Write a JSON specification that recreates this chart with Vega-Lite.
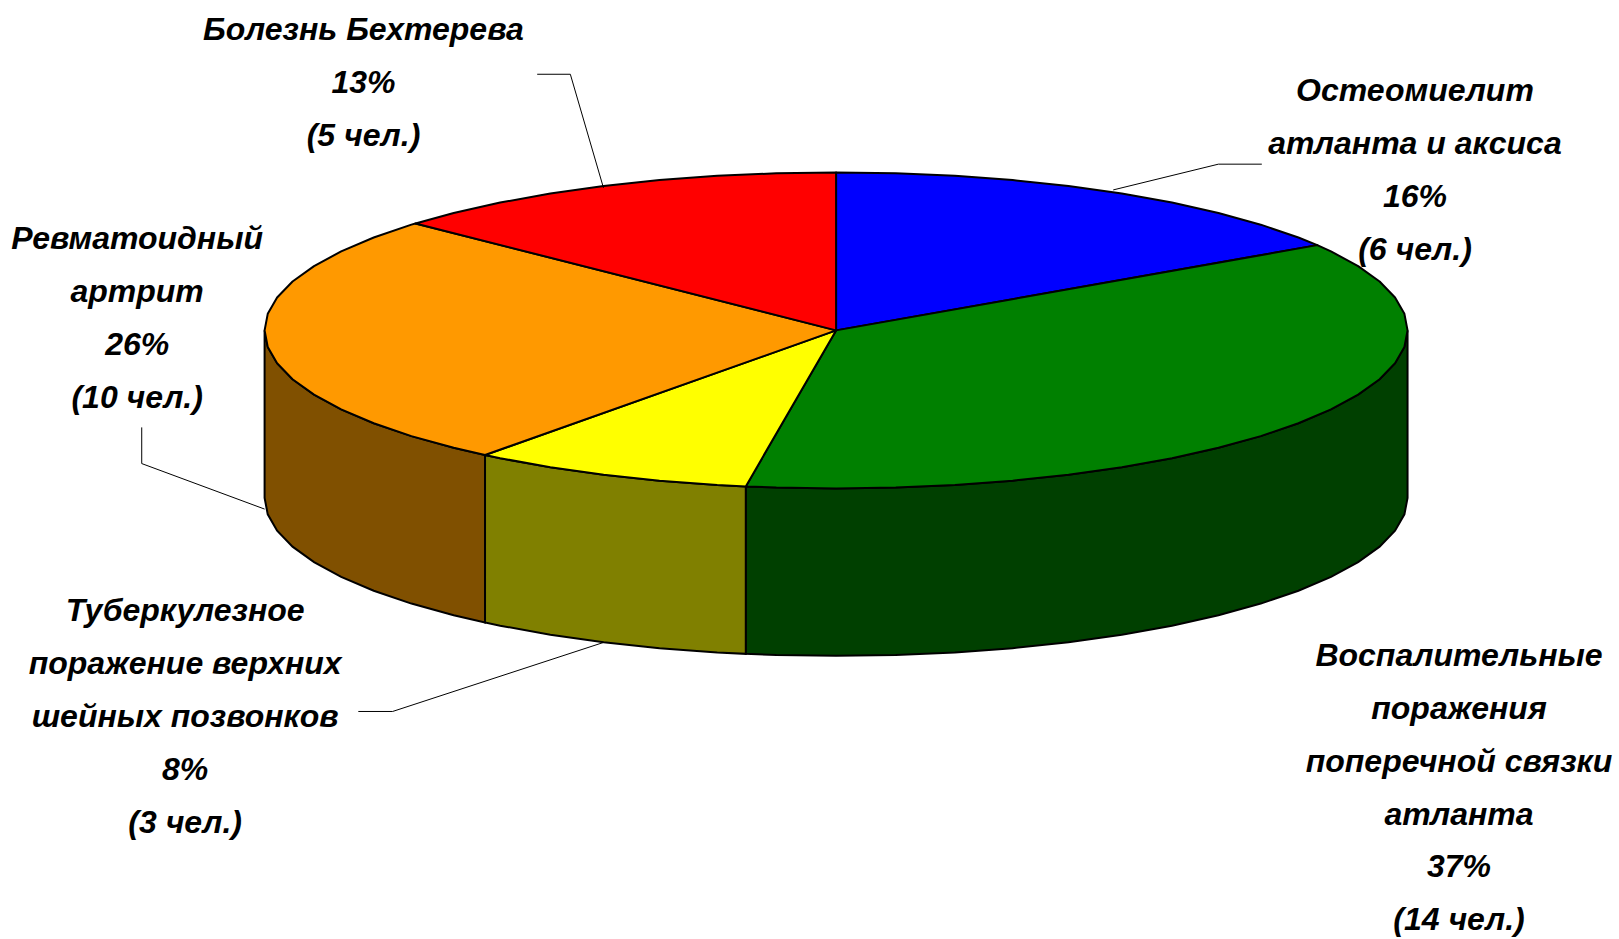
{
"$schema":"https://vega.github.io/schema/vega-lite/v6.json",
"width":1619,"height":939,
"autosize":{"type":"fit","contains":"padding"},
"padding":0,
"background":"white",
"view":{"stroke":null},
"datasets":{
"walls":[
{"s":"inflam","x":100,"y":0,"y2":-106},{"s":"inflam","x":99.45,"y":-10.45,"y2":-116.45},{"s":"inflam","x":97.81,"y":-20.79,"y2":-126.79},{"s":"inflam","x":95.11,"y":-30.9,"y2":-136.9},{"s":"inflam","x":91.35,"y":-40.67,"y2":-146.67},{"s":"inflam","x":86.6,"y":-50,"y2":-156},{"s":"inflam","x":80.9,"y":-58.78,"y2":-164.78},{"s":"inflam","x":74.31,"y":-66.91,"y2":-172.91},{"s":"inflam","x":66.91,"y":-74.31,"y2":-180.31},{"s":"inflam","x":58.78,"y":-80.9,"y2":-186.9},{"s":"inflam","x":50,"y":-86.6,"y2":-192.6},{"s":"inflam","x":40.67,"y":-91.35,"y2":-197.35},{"s":"inflam","x":30.9,"y":-95.11,"y2":-201.11},{"s":"inflam","x":20.79,"y":-97.81,"y2":-203.81},{"s":"inflam","x":10.45,"y":-99.45,"y2":-205.45},{"s":"inflam","x":0,"y":-100,"y2":-206},{"s":"inflam","x":-10.45,"y":-99.45,"y2":-205.45},{"s":"inflam","x":-15.8,"y":-98.74,"y2":-204.74},
{"s":"tb","x":-15.8,"y":-98.74,"y2":-204.74},{"s":"tb","x":-20.79,"y":-97.81,"y2":-203.81},{"s":"tb","x":-30.9,"y":-95.11,"y2":-201.11},{"s":"tb","x":-40.67,"y":-91.35,"y2":-197.35},{"s":"tb","x":-50,"y":-86.6,"y2":-192.6},{"s":"tb","x":-58.78,"y":-80.9,"y2":-186.9},{"s":"tb","x":-61.43,"y":-78.91,"y2":-184.91},
{"s":"ra","x":-61.43,"y":-78.91,"y2":-184.91},{"s":"ra","x":-66.91,"y":-74.31,"y2":-180.31},{"s":"ra","x":-74.31,"y":-66.91,"y2":-172.91},{"s":"ra","x":-80.9,"y":-58.78,"y2":-164.78},{"s":"ra","x":-86.6,"y":-50,"y2":-156},{"s":"ra","x":-91.35,"y":-40.67,"y2":-146.67},{"s":"ra","x":-95.11,"y":-30.9,"y2":-136.9},{"s":"ra","x":-97.81,"y":-20.79,"y2":-126.79},{"s":"ra","x":-99.45,"y":-10.45,"y2":-116.45},{"s":"ra","x":-100,"y":0,"y2":-106}
],
"tops":[
{"s":"osteo","x":0,"y":0},{"s":"osteo","x":0,"y":100},{"s":"osteo","x":10.45,"y":99.45},{"s":"osteo","x":20.79,"y":97.81},{"s":"osteo","x":30.9,"y":95.11},{"s":"osteo","x":40.67,"y":91.35},{"s":"osteo","x":50,"y":86.6},{"s":"osteo","x":58.78,"y":80.9},{"s":"osteo","x":66.91,"y":74.31},{"s":"osteo","x":74.31,"y":66.91},{"s":"osteo","x":80.9,"y":58.78},{"s":"osteo","x":84.2,"y":53.95},{"s":"osteo","x":0,"y":0},
{"s":"inflam","x":0,"y":0},{"s":"inflam","x":84.2,"y":53.95},{"s":"inflam","x":86.6,"y":50},{"s":"inflam","x":91.35,"y":40.67},{"s":"inflam","x":95.11,"y":30.9},{"s":"inflam","x":97.81,"y":20.79},{"s":"inflam","x":99.45,"y":10.45},{"s":"inflam","x":100,"y":0},{"s":"inflam","x":99.45,"y":-10.45},{"s":"inflam","x":97.81,"y":-20.79},{"s":"inflam","x":95.11,"y":-30.9},{"s":"inflam","x":91.35,"y":-40.67},{"s":"inflam","x":86.6,"y":-50},{"s":"inflam","x":80.9,"y":-58.78},{"s":"inflam","x":74.31,"y":-66.91},{"s":"inflam","x":66.91,"y":-74.31},{"s":"inflam","x":58.78,"y":-80.9},{"s":"inflam","x":50,"y":-86.6},{"s":"inflam","x":40.67,"y":-91.35},{"s":"inflam","x":30.9,"y":-95.11},{"s":"inflam","x":20.79,"y":-97.81},{"s":"inflam","x":10.45,"y":-99.45},{"s":"inflam","x":0,"y":-100},{"s":"inflam","x":-10.45,"y":-99.45},{"s":"inflam","x":-15.8,"y":-98.74},{"s":"inflam","x":0,"y":0},
{"s":"tb","x":0,"y":0},{"s":"tb","x":-15.8,"y":-98.74},{"s":"tb","x":-20.79,"y":-97.81},{"s":"tb","x":-30.9,"y":-95.11},{"s":"tb","x":-40.67,"y":-91.35},{"s":"tb","x":-50,"y":-86.6},{"s":"tb","x":-58.78,"y":-80.9},{"s":"tb","x":-61.43,"y":-78.91},{"s":"tb","x":0,"y":0},
{"s":"ra","x":0,"y":0},{"s":"ra","x":-61.43,"y":-78.91},{"s":"ra","x":-66.91,"y":-74.31},{"s":"ra","x":-74.31,"y":-66.91},{"s":"ra","x":-80.9,"y":-58.78},{"s":"ra","x":-86.6,"y":-50},{"s":"ra","x":-91.35,"y":-40.67},{"s":"ra","x":-95.11,"y":-30.9},{"s":"ra","x":-97.81,"y":-20.79},{"s":"ra","x":-99.45,"y":-10.45},{"s":"ra","x":-100,"y":0},{"s":"ra","x":-99.45,"y":10.45},{"s":"ra","x":-97.81,"y":20.79},{"s":"ra","x":-95.11,"y":30.9},{"s":"ra","x":-91.35,"y":40.67},{"s":"ra","x":-86.6,"y":50},{"s":"ra","x":-80.9,"y":58.78},{"s":"ra","x":-74.31,"y":66.91},{"s":"ra","x":-73.6,"y":67.69},{"s":"ra","x":0,"y":0},
{"s":"behcet","x":0,"y":0},{"s":"behcet","x":-73.6,"y":67.69},{"s":"behcet","x":-66.91,"y":74.31},{"s":"behcet","x":-58.78,"y":80.9},{"s":"behcet","x":-50,"y":86.6},{"s":"behcet","x":-40.67,"y":91.35},{"s":"behcet","x":-30.9,"y":95.11},{"s":"behcet","x":-20.79,"y":97.81},{"s":"behcet","x":-10.45,"y":99.45},{"s":"behcet","x":0,"y":100},{"s":"behcet","x":0,"y":0}
],
"leaders":[
{"s":"behcet","x":-52.3,"y":162.1},{"s":"behcet","x":-46.5,"y":162.1},{"s":"behcet","x":-40.7,"y":90.2},
{"s":"osteo","x":48.5,"y":88.9},{"s":"osteo","x":66.9,"y":105.2},{"s":"osteo","x":74.5,"y":105.2},
{"s":"ra","x":-121.5,"y":-61.4},{"s":"ra","x":-121.5,"y":-84.3},{"s":"ra","x":-100,"y":-113.1},
{"s":"tb","x":-40.6,"y":-197.4},{"s":"tb","x":-77.6,"y":-241.2},{"s":"tb","x":-83.6,"y":-241.2}
],
"labels":[
{"s":"behcet","people":5,"percent":13,"label":"Болезнь Бехтерева\n13%\n(5 чел.)","x":-82.7,"y":189.8},
{"s":"osteo","people":6,"percent":16,"label":"Остеомиелит\nатланта и аксиса\n16%\n(6 чел.)","x":101.3,"y":151.3},
{"s":"ra","people":10,"percent":26,"label":"Ревматоидный\nартрит\n26%\n(10 чел.)","x":-122.3,"y":57.6},
{"s":"tb","people":3,"percent":8,"label":"Туберкулезное\nпоражение верхних\nшейных позвонков\n8%\n(3 чел.)","x":-113.9,"y":-177.7},
{"s":"inflam","people":14,"percent":37,"label":"Воспалительные\nпоражения\nпоперечной связки\nатланта\n37%\n(14 чел.)","x":109,"y":-206}
]
},
"encoding":{
"x":{"field":"x","type":"quantitative","axis":null,"scale":{"domain":[-146.3,137],"nice":false,"zero":false}},
"y":{"field":"y","type":"quantitative","axis":null,"scale":{"domain":[-385.2,209.1],"nice":false,"zero":false}}
},
"layer":[
{"data":{"name":"walls"},
"mark":{"type":"area","stroke":"black","strokeWidth":2,"line":false},
"encoding":{
"y2":{"field":"y2"},
"order":{"value":null},
"fill":{"field":"s","type":"nominal","legend":null,"scale":{"domain":["inflam","tb","ra"],"range":["#004000","#808000","#805000"]}}
}},
{"data":{"name":"tops"},
"mark":{"type":"line","stroke":"black","strokeWidth":2,"strokeJoin":"round"},
"encoding":{
"order":{"value":null},
"detail":{"field":"s"},
"fill":{"field":"s","type":"nominal","legend":null,"scale":{"domain":["osteo","inflam","tb","ra","behcet"],"range":["#0000ff","#008000","#ffff00","#ff9900","#ff0000"]}}
}},
{"data":{"name":"leaders"},
"mark":{"type":"line","stroke":"black","strokeWidth":1},
"encoding":{"order":{"value":null},"detail":{"field":"s"}}},
{"data":{"name":"labels"},
"mark":{"type":"text","lineBreak":"\n","lineHeight":52.9,"align":"center","baseline":"middle","font":"Liberation Sans","fontStyle":"italic","fontWeight":"bold","fontSize":32,"fill":"black"},
"encoding":{"text":{"field":"label"}}}
],
"resolve":{"scale":{"fill":"independent"}}
}
